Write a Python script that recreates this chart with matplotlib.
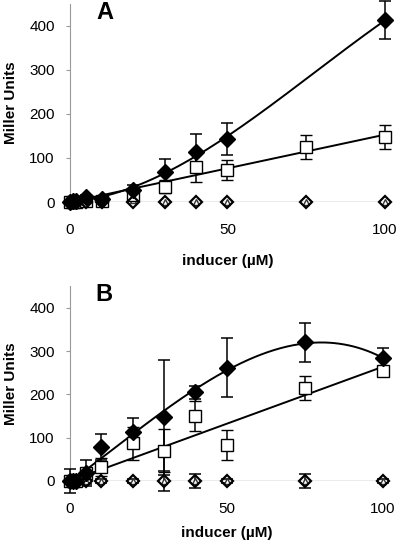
import numpy as np
import matplotlib.pyplot as plt

plt.rcParams['font.family'] = ['Liberation Sans', 'DejaVu Sans']

# ---- panel A ----
a_fill_x = [0, 1, 2, 5, 10, 20, 30, 40, 50, 100]
a_fill_y = [0, 2, 3, 12, 6, 28, 68, 113, 143, 412]
a_fill_err = [0, 0, 0, 3, 3, 10, 30, 42, 37, 43]

a_sq_x = [0, 1, 2, 5, 10, 20, 30, 40, 50, 75, 100]
a_sq_y = [0, 0, 0, 2, 3, 15, 35, 80, 73, 125, 147]
a_sq_err = [0, 0, 0, 2, 2, 5, 15, 35, 22, 28, 27]

a_zero_x = [0, 1, 2, 5, 10, 20, 30, 40, 50, 75, 100]
a_tri_y = [0, 0, 0, 0, 0, 5, 0, 0, 0, 0, 0]
a_dia_y = [0, 0, 0, 0, 0, 0, 0, 0, 0, 0, 0]

# ---- panel B ----
b_fill_x = [0, 1, 2, 5, 10, 20, 30, 40, 50, 75, 100]
b_fill_y = [0, 0, 0, 18, 78, 113, 147, 205, 262, 320, 283]
b_fill_err = [0, 0, 0, 30, 30, 33, 133, 15, 68, 45, 25]

b_sq_x = [0, 1, 2, 5, 10, 20, 30, 40, 50, 75, 100]
b_sq_y = [0, 0, 0, 18, 32, 87, 70, 150, 83, 215, 253]
b_sq_err = [0, 0, 0, 10, 20, 38, 50, 35, 35, 27, 5]

b_zero_x = [0, 1, 2, 5, 10, 20, 30, 40, 50, 75, 100]
b_tri_y = [0, 0, 0, 0, 0, 0, 0, 0, 0, 0, 0]
b_dia_y = [0, 0, 0, 0, 0, 0, 0, 0, 0, 0, 0]
b_zero_err = [27, 5, 5, 8, 5, 5, 22, 17, 5, 17, 5]

xticks = [0, 50, 100]
yticks = [0, 100, 200, 300, 400]

fig = plt.figure(figsize=(4, 5.49), dpi=100)
axA = fig.add_axes([0.175, 0.632, 0.7875, 0.3616])
axB = fig.add_axes([0.175, 0.1239, 0.7825, 0.355])


def panel(ax, fx, fy, ferr, fdeg, sx, sy, serr, zx, ty, dy, zerr, letter, xpad):
    kw = dict(color='black', ecolor='black', elinewidth=1.1, capsize=4,
              capthick=1.1, linestyle='none', clip_on=False, zorder=4)
    # zero-level series
    if zerr is not None:
        ax.errorbar(zx, ty, yerr=zerr, marker='^', mfc='white', mec='#333333',
                    ms=5, **kw)
    else:
        ax.plot(zx, ty, '^', mfc='white', mec='#333333', ms=5, clip_on=False, zorder=4)
    ax.plot(zx, dy, 'D', mfc='none', mec='black', mew=1.6, ms=6.5, clip_on=False, zorder=5)
    ax.plot(zx[:2], [0, 0], 'o', mfc='#888888', mec='#444444', ms=7,
            clip_on=False, zorder=3)
    # open squares + linear trend through origin
    ax.errorbar(sx, sy, yerr=serr, marker='s', mfc='white', mec='black', mew=1.0,
                ms=8, **kw)
    sxa, sya = np.array(sx, float), np.array(sy, float)
    slope = (sxa * sya).sum() / (sxa ** 2).sum()
    xx = np.linspace(0, 100, 200)
    ax.plot(xx, slope * xx, color='black', lw=1.4, zorder=3)
    # filled diamonds + polynomial trend
    ax.errorbar(fx, fy, yerr=ferr, marker='D', mfc='black', mec='black',
                ms=8, **kw)
    q = np.polyfit(fx, fy, fdeg)
    ax.plot(xx, np.polyval(q, xx), color='black', lw=1.4, zorder=3)

    ax.set_xlim(0, 100)
    ax.set_ylim(0, 450)
    ax.set_xticks(xticks)
    ax.set_yticks(yticks)
    for s in ['top', 'right', 'bottom']:
        ax.spines[s].set_visible(False)
    ax.spines['left'].set_color('#999999')
    ax.axhline(0, color='#999999', lw=1.0, zorder=1)
    ax.tick_params(axis='x', length=0, labelsize=11, pad=15)
    ax.tick_params(axis='y', length=3, color='#999999', labelsize=11, pad=8)
    ax.set_xlabel('inducer (µM)', fontsize=11, fontweight='bold', labelpad=xpad)
    ax.set_ylabel('Miller Units', fontsize=11, fontweight='bold', labelpad=8)
    ax.text(0.11, 0.955, letter, transform=ax.transAxes, fontsize=17,
            fontweight='bold', ha='center', va='center')


panel(axA, a_fill_x, a_fill_y, a_fill_err, 3, a_sq_x, a_sq_y, a_sq_err,
      a_zero_x, a_tri_y, a_dia_y, None, 'A', 12)
panel(axB, b_fill_x, b_fill_y, b_fill_err, 3, b_sq_x, b_sq_y, b_sq_err,
      b_zero_x, b_tri_y, b_dia_y, b_zero_err, 'B', 7)

fig.savefig('out.png', dpi=100)
